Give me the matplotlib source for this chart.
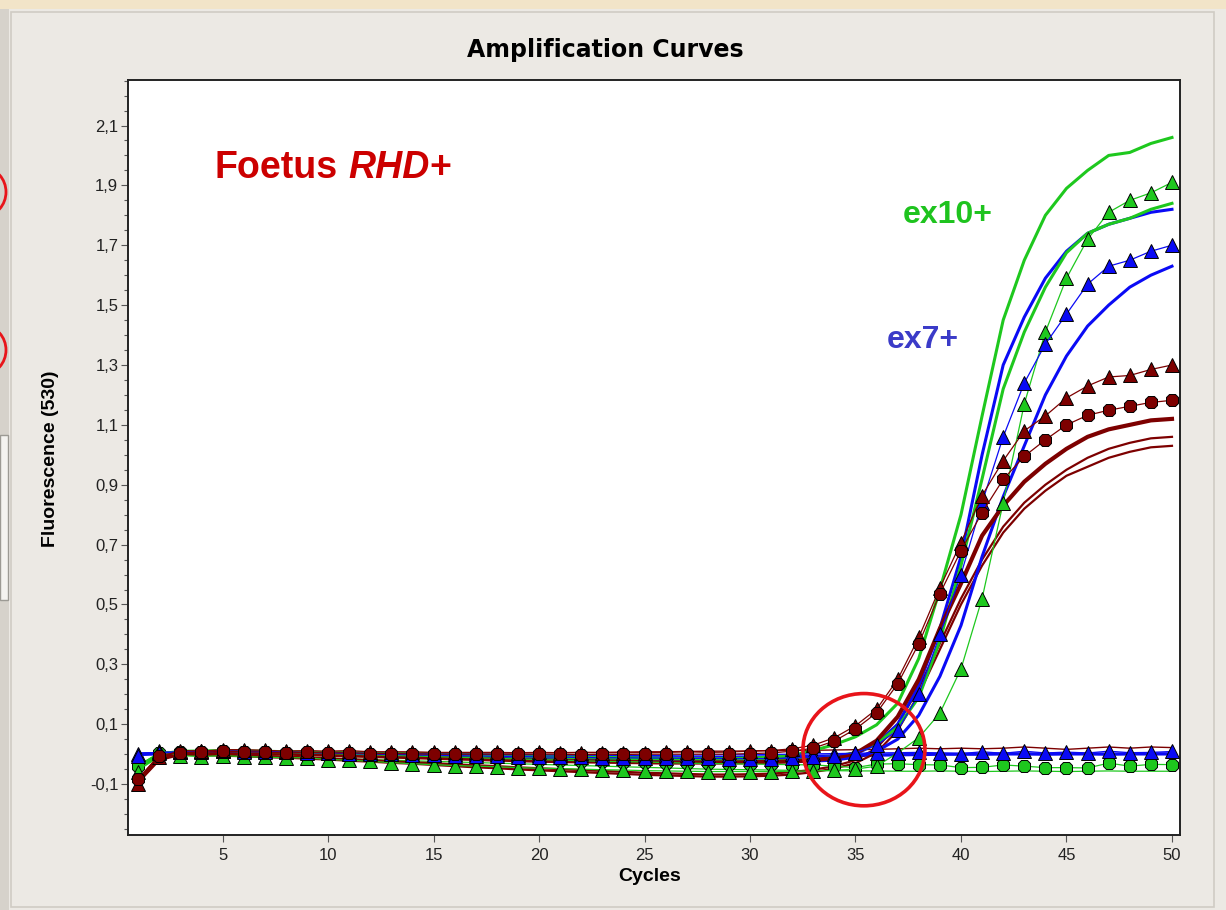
import matplotlib
matplotlib.use("Agg")
import matplotlib.pyplot as plt
from matplotlib.patches import Ellipse, Rectangle
from matplotlib.ticker import FixedLocator, FuncFormatter

# qPCR amplification curves, fluorescence 530 nm
cycles = list(range(1, 51))

# ex10 (green)
g_top = [
    -0.040, 0.000, 0.010, 0.010, 0.012, 0.010, 0.010, 0.008, 0.006, 0.005,
    0.004, 0.003, 0.002, 0.000, 0.000, -0.002, -0.004, -0.005, -0.006, -0.008,
    -0.010, -0.012, -0.013, -0.014, -0.015, -0.016, -0.016, -0.016, -0.015, -0.013,
    -0.010, -0.004, 0.012, 0.032, 0.058, 0.098, 0.170, 0.320, 0.550, 0.800,
    1.130, 1.450, 1.650, 1.800, 1.890, 1.950, 2.000, 2.010, 2.040, 2.060]
g_mid = [
    -0.050, -0.005, 0.008, 0.010, 0.010, 0.010, 0.008, 0.008, 0.006, 0.005,
    0.004, 0.003, 0.002, 0.001, 0.000, -0.002, -0.003, -0.004, -0.005, -0.006,
    -0.008, -0.009, -0.010, -0.012, -0.013, -0.014, -0.015, -0.016, -0.017, -0.018,
    -0.018, -0.017, -0.014, -0.008, 0.005, 0.035, 0.090, 0.190, 0.380, 0.630,
    0.920, 1.220, 1.410, 1.560, 1.675, 1.740, 1.770, 1.790, 1.820, 1.840]
g_tri = [
    -0.060, 0.012, -0.005, -0.008, -0.005, -0.008, -0.010, -0.012, -0.012, -0.018,
    -0.020, -0.024, -0.028, -0.032, -0.035, -0.038, -0.040, -0.042, -0.045, -0.047,
    -0.048, -0.050, -0.052, -0.053, -0.055, -0.056, -0.057, -0.058, -0.058, -0.058,
    -0.058, -0.057, -0.056, -0.054, -0.050, -0.040, 0.004, 0.055, 0.137, 0.285,
    0.520, 0.840, 1.170, 1.410, 1.590, 1.720, 1.810, 1.850, 1.875, 1.910]
g_neg_circ = [
    -0.040, 0.005, 0.006, 0.008, 0.010, 0.008, 0.006, 0.005, 0.004, 0.002,
    0.000, -0.002, -0.004, -0.006, -0.008, -0.010, -0.012, -0.014, -0.016, -0.018,
    -0.020, -0.022, -0.024, -0.025, -0.026, -0.028, -0.030, -0.031, -0.032, -0.033,
    -0.034, -0.035, -0.036, -0.040, -0.045, -0.033, -0.032, -0.035, -0.036, -0.045,
    -0.044, -0.036, -0.040, -0.045, -0.045, -0.046, -0.030, -0.040, -0.034, -0.035]
g_neg_line = [
    -0.045, 0.000, 0.000, -0.002, -0.004, -0.006, -0.008, -0.010, -0.012, -0.014,
    -0.016, -0.018, -0.020, -0.022, -0.024, -0.026, -0.028, -0.030, -0.032, -0.034,
    -0.036, -0.038, -0.040, -0.042, -0.044, -0.046, -0.048, -0.050, -0.051, -0.052,
    -0.053, -0.054, -0.055, -0.055, -0.056, -0.056, -0.057, -0.057, -0.056, -0.057,
    -0.058, -0.057, -0.056, -0.057, -0.058, -0.057, -0.056, -0.057, -0.057, -0.057]

# ex7 (blue)
b_thick1 = [
    0.000, 0.003, 0.006, 0.008, 0.008, 0.008, 0.007, 0.006, 0.005, 0.004,
    0.002, 0.000, -0.002, -0.004, -0.005, -0.006, -0.008, -0.009, -0.010, -0.011,
    -0.012, -0.013, -0.014, -0.015, -0.016, -0.017, -0.018, -0.019, -0.020, -0.020,
    -0.020, -0.020, -0.017, -0.010, 0.000, 0.035, 0.100, 0.230, 0.420, 0.660,
    1.000, 1.300, 1.460, 1.590, 1.680, 1.740, 1.770, 1.790, 1.810, 1.820]
b_tri = [
    -0.005, 0.004, 0.007, 0.008, 0.009, 0.008, 0.007, 0.006, 0.005, 0.004,
    0.002, 0.000, -0.001, -0.002, -0.004, -0.005, -0.006, -0.007, -0.008, -0.009,
    -0.010, -0.011, -0.012, -0.012, -0.013, -0.013, -0.014, -0.014, -0.015, -0.015,
    -0.015, -0.013, -0.010, -0.005, 0.005, 0.030, 0.080, 0.200, 0.400, 0.600,
    0.840, 1.060, 1.240, 1.370, 1.470, 1.570, 1.630, 1.650, 1.680, 1.700]
b_thick2 = [
    0.000, 0.002, 0.005, 0.006, 0.006, 0.005, 0.004, 0.003, 0.002, 0.000,
    -0.002, -0.004, -0.006, -0.008, -0.010, -0.011, -0.012, -0.014, -0.015, -0.016,
    -0.017, -0.018, -0.019, -0.020, -0.021, -0.022, -0.023, -0.024, -0.024, -0.025,
    -0.025, -0.025, -0.023, -0.020, -0.010, 0.010, 0.050, 0.130, 0.260, 0.430,
    0.660, 0.860, 1.030, 1.200, 1.330, 1.430, 1.500, 1.560, 1.600, 1.630]
b_neg_tri = [
    0.000, 0.006, 0.008, 0.010, 0.012, 0.010, 0.009, 0.008, 0.006, 0.005,
    0.004, 0.003, 0.002, 0.002, 0.001, 0.000, 0.000, -0.001, -0.002, -0.002,
    -0.003, -0.003, -0.004, -0.004, -0.004, -0.004, -0.003, -0.003, -0.002, -0.002,
    -0.001, 0.000, 0.001, 0.002, 0.003, 0.004, 0.005, 0.006, 0.004, 0.002,
    0.008, 0.003, 0.010, 0.004, 0.007, 0.004, 0.010, 0.005, 0.006, 0.009]
b_neg_line = [
    0.000, 0.002, 0.004, 0.005, 0.005, 0.004, 0.003, 0.002, 0.001, 0.000,
    -0.001, -0.002, -0.003, -0.004, -0.005, -0.006, -0.007, -0.008, -0.008, -0.009,
    -0.010, -0.010, -0.011, -0.011, -0.012, -0.012, -0.012, -0.012, -0.011, -0.010,
    -0.009, -0.008, -0.007, -0.006, -0.004, -0.003, -0.002, -0.001, 0.000, 0.000,
    0.000, 0.001, 0.001, 0.000, 0.001, 0.001, 0.000, 0.001, 0.001, 0.001]

# RHD foetus control (dark red)
r_tri = [
    -0.100, -0.010, 0.012, 0.010, 0.015, 0.015, 0.013, 0.010, 0.012, 0.010,
    0.012, 0.008, 0.008, 0.008, 0.006, 0.006, 0.006, 0.006, 0.005, 0.006,
    0.005, 0.005, 0.005, 0.005, 0.005, 0.006, 0.008, 0.006, 0.007, 0.010,
    0.012, 0.018, 0.030, 0.055, 0.095, 0.150, 0.250, 0.390, 0.556, 0.707,
    0.864, 0.980, 1.080, 1.130, 1.190, 1.230, 1.260, 1.265, 1.285, 1.300]
r_circ = [
    -0.083, -0.005, 0.005, 0.006, 0.010, 0.008, 0.007, 0.004, 0.006, 0.004,
    0.005, 0.002, 0.002, 0.001, 0.000, 0.000, 0.000, 0.000, 0.000, 0.000,
    0.000, -0.002, 0.000, -0.001, 0.000, 0.000, 0.000, 0.000, 0.000, 0.002,
    0.004, 0.010, 0.020, 0.044, 0.084, 0.138, 0.235, 0.369, 0.536, 0.680,
    0.807, 0.918, 0.995, 1.050, 1.100, 1.132, 1.149, 1.162, 1.175, 1.182]
r_thick = [
    -0.090, -0.010, 0.005, 0.006, 0.006, 0.005, 0.004, 0.002, 0.000, -0.002,
    -0.004, -0.006, -0.008, -0.010, -0.012, -0.014, -0.016, -0.018, -0.020, -0.022,
    -0.023, -0.024, -0.025, -0.026, -0.027, -0.028, -0.028, -0.028, -0.028, -0.027,
    -0.026, -0.024, -0.020, -0.012, 0.002, 0.045, 0.125, 0.250, 0.420, 0.570,
    0.730, 0.830, 0.910, 0.970, 1.020, 1.060, 1.085, 1.100, 1.115, 1.120]
r_thin2 = [
    -0.090, -0.015, 0.000, 0.000, -0.002, -0.004, -0.006, -0.008, -0.011, -0.014,
    -0.017, -0.020, -0.024, -0.027, -0.030, -0.034, -0.037, -0.040, -0.044, -0.047,
    -0.050, -0.053, -0.056, -0.059, -0.062, -0.064, -0.066, -0.068, -0.068, -0.067,
    -0.065, -0.060, -0.052, -0.040, -0.020, 0.020, 0.100, 0.220, 0.370, 0.520,
    0.650, 0.760, 0.840, 0.900, 0.950, 0.990, 1.020, 1.040, 1.055, 1.060]
r_thin3 = [
    -0.095, -0.020, -0.002, -0.003, -0.005, -0.007, -0.010, -0.012, -0.015, -0.018,
    -0.022, -0.025, -0.029, -0.032, -0.036, -0.040, -0.044, -0.047, -0.051, -0.054,
    -0.057, -0.060, -0.063, -0.066, -0.069, -0.071, -0.073, -0.075, -0.075, -0.074,
    -0.072, -0.068, -0.060, -0.048, -0.030, 0.005, 0.080, 0.200, 0.350, 0.500,
    0.630, 0.740, 0.820, 0.880, 0.930, 0.960, 0.990, 1.010, 1.025, 1.030]
r_neg = [
    -0.085, -0.005, 0.008, 0.010, 0.012, 0.012, 0.010, 0.010, 0.008, 0.008,
    0.007, 0.006, 0.006, 0.005, 0.005, 0.004, 0.004, 0.004, 0.004, 0.005,
    0.005, 0.006, 0.006, 0.007, 0.008, 0.008, 0.009, 0.010, 0.010, 0.011,
    0.012, 0.012, 0.013, 0.014, 0.015, 0.016, 0.018, 0.020, 0.018, 0.020,
    0.018, 0.020, 0.024, 0.020, 0.016, 0.020, 0.024, 0.020, 0.024, 0.022]

x_ticks = [5, 10, 15, 20, 25, 30, 35, 40, 45, 50]
y_ticks = [-0.1, 0.1, 0.3, 0.5, 0.7, 0.9, 1.1, 1.3, 1.5, 1.7, 1.9, 2.1]

GREEN = "#1ec81e"
BLUE = "#0a0af5"
DRED = "#7d0000"

plt.rcParams['font.family'] = ['Liberation Sans', 'DejaVu Sans']

W, H = 1226, 910
fig = plt.figure(figsize=(W / 100, H / 100), dpi=100, facecolor="#ece9e4")

# window chrome around the chart
fig.add_artist(Rectangle((0, 0), 9 / W, 1, transform=fig.transFigure,
                         facecolor="#d6d2cb", edgecolor="none"))
fig.add_artist(Rectangle((0, 1 - 9 / H), 1, 9 / H, transform=fig.transFigure,
                         facecolor="#f2e4c8", edgecolor="none"))
fig.add_artist(Rectangle((11 / W, 3 / H), 1203 / W, 1 - 15 / H, transform=fig.transFigure,
                         facecolor="none", edgecolor="#d0ccc4", lw=1.2))
fig.add_artist(Rectangle((0, 1 - 600 / H), 8 / W, 165 / H, transform=fig.transFigure,
                         facecolor="#f4f3f0", edgecolor="#9c9a94", lw=1))
for yc in (192, 350):
    fig.add_artist(Ellipse((-16 / W, 1 - yc / H), 44 / W, 48 / H, transform=fig.transFigure,
                           fill=False, edgecolor="#e8141a", lw=2))

ax = fig.add_axes([128 / W, 1 - 835 / H, 1052 / W, 755 / H])
ax.set_facecolor("white")

# flat negatives first
ax.plot(cycles, g_neg_line, color=GREEN, lw=0.9, zorder=2)
ax.plot(cycles, b_neg_line, color=BLUE, lw=2.4, zorder=2)
ax.plot(cycles, r_neg, color=DRED, lw=1.0, zorder=2)

# thick curves without markers
ax.plot(cycles, r_thin3, color=DRED, lw=1.6, zorder=3)
ax.plot(cycles, r_thin2, color=DRED, lw=1.6, zorder=3)
ax.plot(cycles, b_thick2, color=BLUE, lw=2.2, zorder=3)
ax.plot(cycles, b_thick1, color=BLUE, lw=2.2, zorder=3)
ax.plot(cycles, g_mid, color=GREEN, lw=2.2, zorder=3)
ax.plot(cycles, g_top, color=GREEN, lw=2.2, zorder=3)
ax.plot(cycles, r_thick, color=DRED, lw=3.0, zorder=3)

# curves with markers
mk = dict(markeredgecolor="black", markeredgewidth=0.7, zorder=4)
ax.plot(cycles, g_neg_circ, color=GREEN, lw=0.9, marker="8", markersize=9.5,
        markerfacecolor=GREEN, **mk)
ax.plot(cycles, g_tri, color=GREEN, lw=0.9, marker="^", markersize=10.5,
        markerfacecolor=GREEN, **mk)
ax.plot(cycles, b_neg_tri, color=BLUE, lw=0.9, marker="^", markersize=10.5,
        markerfacecolor=BLUE, **mk)
ax.plot(cycles, b_tri, color=BLUE, lw=0.9, marker="^", markersize=10.5,
        markerfacecolor=BLUE, **mk)
ax.plot(cycles, r_tri, color=DRED, lw=0.9, marker="^", markersize=10.5,
        markerfacecolor=DRED, **mk)
ax.plot(cycles, r_circ, color=DRED, lw=0.9, marker="8", markersize=9.5,
        markerfacecolor=DRED, **mk)

# highlighted take-off region
ax.add_patch(Ellipse((35.4, 0.015), 5.78, 0.375, fill=False,
                     edgecolor="#e8141a", lw=2.6, zorder=10))

ax.set_xlim(0.52, 50.38)
ax.set_ylim(-0.27, 2.252)
ax.xaxis.set_major_locator(FixedLocator(x_ticks))
ax.yaxis.set_major_locator(FixedLocator(y_ticks))
ax.yaxis.set_minor_locator(FixedLocator([v / 100 for v in range(-25, 226, 5)]))
ax.yaxis.set_major_formatter(FuncFormatter(lambda v, p: f"{v:.1f}".replace(".", ",")))
ax.tick_params(axis="both", which="major", length=5, width=0.8, color="#555555",
               labelsize=12, labelcolor="#222222")
ax.tick_params(axis="y", which="major", pad=2)
ax.tick_params(axis="x", which="major", pad=4)
ax.tick_params(axis="y", which="minor", length=3, width=0.8, color="#555555")
for sp in ax.spines.values():
    sp.set_color("#222222")
    sp.set_linewidth(1.4)

ax.set_xlabel("Cycles", fontsize=14, fontweight="bold")
ax.xaxis.set_label_coords(0.496, -0.044)
ax.set_ylabel("Fluorescence (530)", fontsize=14, fontweight="bold")
ax.yaxis.set_label_coords(-0.0656, 0.4987)

fig.text(605 / W, 1 - 50 / H, "Amplification Curves", ha="center", va="center",
         fontsize=17, fontweight="heavy", family="DejaVu Sans")

# labels inside the plot
t1 = ax.text(4.64, 1.925, "Foetus", color="#cc0000", fontsize=27, fontweight="bold")
t2 = ax.annotate("RHD", xy=(1, 0), xycoords=t1, xytext=(7.5, 0), textcoords="offset points",
                 va="bottom", color="#cc0000", fontsize=27, fontweight="bold", style="italic")
ax.annotate("+", xy=(1, 0), xycoords=t2, va="bottom", color="#cc0000",
            fontsize=27, fontweight="bold")
ax.text(37.25, 1.775, "ex10+", color="#1ec31e", fontsize=23, fontweight="bold")
ax.text(36.5, 1.357, "ex7+", color="#3b3bc8", fontsize=23, fontweight="bold")

fig.savefig("out.png", dpi=100, facecolor=fig.get_facecolor())
